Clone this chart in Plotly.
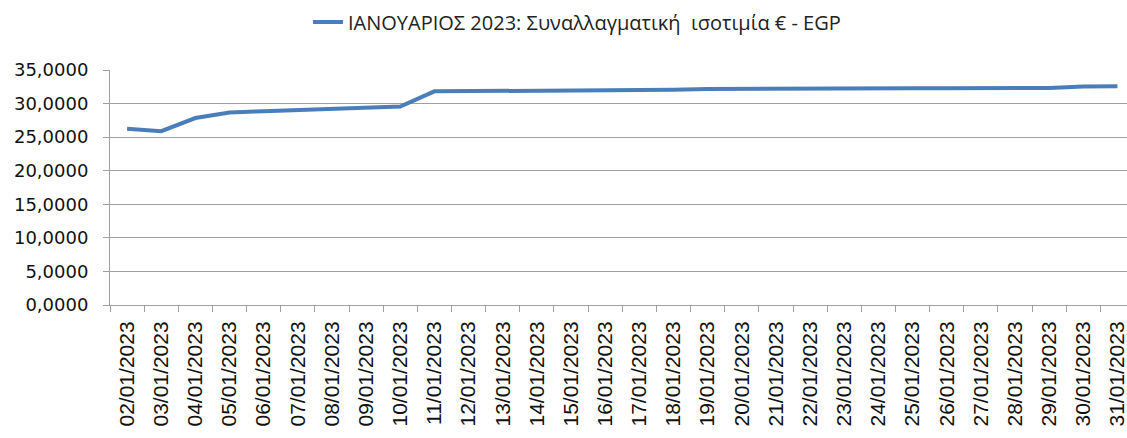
import plotly.graph_objects as go

dates = ["02/01/2023", "03/01/2023", "04/01/2023", "05/01/2023", "06/01/2023",
         "07/01/2023", "08/01/2023", "09/01/2023", "10/01/2023", "11/01/2023",
         "12/01/2023", "13/01/2023", "14/01/2023", "15/01/2023", "16/01/2023",
         "17/01/2023", "18/01/2023", "19/01/2023", "20/01/2023", "21/01/2023",
         "22/01/2023", "23/01/2023", "24/01/2023", "25/01/2023", "26/01/2023",
         "27/01/2023", "28/01/2023", "29/01/2023", "30/01/2023", "31/01/2023"]
rates = [26.24, 25.88, 27.85, 28.68, 28.85, 29.00, 29.15, 29.35, 29.56, 31.82,
         31.84, 31.90, 31.95, 32.00, 32.03, 32.04, 32.05, 32.18, 32.22, 32.26,
         32.28, 32.28, 32.28, 32.28, 32.28, 32.29, 32.30, 32.32, 32.55, 32.58]
series_name = "ΙΑΝΟΥΑΡΙΟΣ 2023: Συναλλαγματική  ισοτιμία € - EGP"
y_ticks = [0, 5, 10, 15, 20, 25, 30, 35]

fig = go.Figure()
fig.add_trace(go.Scatter(x=dates, y=rates, mode="lines", name=series_name,
                         line=dict(color="#4a7ebb", width=4)))

W, H = 1127, 438
fig.update_layout(
    width=W, height=H,
    margin=dict(l=110, r=0, t=70, b=133),
    paper_bgcolor="white", plot_bgcolor="white",
    separators=",.",
    showlegend=True,
    legend=dict(orientation="h", xref="container", yref="container",
                x=577 / W, xanchor="center", y=1 - 22 / H, yanchor="middle",
                font=dict(family="Open Sans", size=20, color="#222222"),
                bgcolor="rgba(0,0,0,0)"),
    xaxis=dict(type="category", range=[-0.5, 29.28], tickangle=-90,
               showgrid=False, showline=True, linecolor="#a0a0a0", linewidth=1,
               ticks="outside", tickson="boundaries", ticklen=6, tickcolor="#a0a0a0",
               ticklabelstandoff=7,
               tickfont=dict(family="Liberation Sans", size=21, color="#111111"),
               automargin=False),
    yaxis=dict(range=[0, 35], tickvals=y_ticks, tickformat=".4f",
               showgrid=True, gridcolor="#a0a0a0", gridwidth=1,
               showline=True, linecolor="#a0a0a0", linewidth=1,
               ticks="outside", ticklen=6, tickcolor="#a0a0a0",
               ticklabelstandoff=11,
               tickfont=dict(family="DejaVu Sans", size=18, color="#111111"),
               zeroline=False, automargin=False),
)

fig.write_html("out.html", config={"displayModeBar": False},
               post_script="document.body.style.margin='0';document.body.style.overflow='hidden';")
